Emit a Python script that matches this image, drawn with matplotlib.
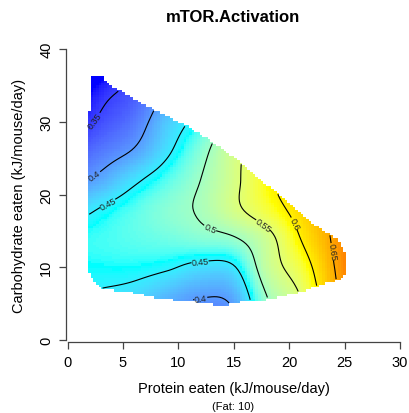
import numpy as np
import matplotlib
matplotlib.use("Agg")
import matplotlib.pyplot as plt
from matplotlib.path import Path
from matplotlib.colors import ListedColormap, Normalize

plt.rcParams['font.family'] = ['Liberation Sans', 'DejaVu Sans']

title = "mTOR.Activation"
x_label = "Protein eaten (kJ/mouse/day)"
y_label = "Carbohydrate eaten (kJ/mouse/day)"
sub_label = "(Fat: 10)"

x_ticks = [0, 5, 10, 15, 20, 25, 30]
y_ticks = [0, 10, 20, 30, 40]
levels = [0.35, 0.40, 0.45, 0.50, 0.55, 0.60, 0.65]

# response surface on a coarse protein x carbohydrate lattice
protein_nodes = np.array([0, 3, 6, 9, 12, 15, 18, 21, 24, 27, 30], float)
carb_nodes = np.array([2, 6, 10, 14, 18, 22, 26, 30, 34, 38], float)
mtor = np.array([
    [0.440, 0.432, 0.418, 0.395, 0.375, 0.388, 0.480, 0.530, 0.590, 0.640, 0.700],
    [0.450, 0.446, 0.438, 0.418, 0.402, 0.412, 0.500, 0.550, 0.635, 0.680, 0.720],
    [0.458, 0.460, 0.460, 0.454, 0.441, 0.447, 0.525, 0.575, 0.648, 0.710, 0.740],
    [0.462, 0.466, 0.472, 0.478, 0.487, 0.497, 0.535, 0.600, 0.655, 0.705, 0.740],
    [0.430, 0.452, 0.470, 0.488, 0.505, 0.540, 0.578, 0.617, 0.660, 0.700, 0.740],
    [0.385, 0.410, 0.443, 0.470, 0.500, 0.540, 0.590, 0.630, 0.670, 0.710, 0.740],
    [0.355, 0.380, 0.403, 0.444, 0.487, 0.537, 0.580, 0.630, 0.670, 0.710, 0.740],
    [0.325, 0.356, 0.380, 0.428, 0.465, 0.520, 0.560, 0.610, 0.660, 0.700, 0.740],
    [0.305, 0.340, 0.362, 0.405, 0.450, 0.500, 0.550, 0.600, 0.650, 0.700, 0.740],
    [0.285, 0.315, 0.345, 0.385, 0.430, 0.480, 0.530, 0.580, 0.630, 0.680, 0.720],
])

# outline of the observed intake region
hull_protein = [2.2, 3.2, 3.56, 5.64, 7.9, 10.6, 13.1, 15.8, 19.2, 21.9, 24.3, 25.2,
                25.2, 24.4, 23.7, 21.0, 18.3, 15.6, 13.8, 11.7, 10.2, 7.7, 5.6,
                3.2, 2.3, 1.85, 1.8, 1.95]
hull_carb = [36.3, 36.3, 35.3, 33.5, 31.6, 29.6, 27.2, 24.2, 19.8, 16.2, 13.9, 11.8,
             9.3, 8.2, 8.0, 6.6, 5.6, 5.2, 4.7, 5.2, 5.4, 5.9, 6.6,
             7.0, 8.1, 9.8, 27.0, 31.3]

label_spots = [(2.35, 30.4), (2.5, 22.5), (3.65, 18.7), (12.9, 15.5), (11.95, 10.9),
               (12.0, 6.0), (17.6, 15.7), (20.3, 15.9), (23.7, 12.1)]


def srgb_to_lab(rgb):
    c = np.asarray(rgb, float)
    lin = np.where(c <= 0.04045, c / 12.92, ((c + 0.055) / 1.055) ** 2.4)
    m = np.array([[0.4124, 0.3576, 0.1805], [0.2126, 0.7152, 0.0722], [0.0193, 0.1192, 0.9505]])
    xyz = m @ lin / np.array([0.95047, 1.0, 1.08883])
    d = 6 / 29
    f = np.where(xyz > d ** 3, np.cbrt(xyz), xyz / (3 * d * d) + 4 / 29)
    return np.array([116 * f[1] - 16, 500 * (f[0] - f[1]), 200 * (f[1] - f[2])])


def lab_to_srgb(lab):
    L, a, b = lab
    fy = (L + 16) / 116
    fx = fy + a / 500
    fz = fy - b / 200
    d = 6 / 29
    f = np.array([fx, fy, fz])
    xyz = np.where(f > d, f ** 3, 3 * d * d * (f - 4 / 29)) * np.array([0.95047, 1.0, 1.08883])
    minv = np.linalg.inv(np.array([[0.4124, 0.3576, 0.1805], [0.2126, 0.7152, 0.0722],
                                   [0.0193, 0.1192, 0.9505]]))
    lin = np.clip(minv @ xyz, 0, 1)
    c = np.where(lin <= 0.0031308, 12.92 * lin, 1.055 * lin ** (1 / 2.4) - 0.055)
    return np.clip(c, 0, 1)


# blue - cyan - yellow - red ramp blended in Lab space
anchors = [srgb_to_lab(c) for c in [(0, 0, 1), (0, 1, 1), (1, 1, 0), (1, 0, 0)]]
ramp = []
for t in np.linspace(0, 1, 256):
    s = t * 3
    i = min(int(s), 2)
    u = s - i
    ramp.append(lab_to_srgb(anchors[i] * (1 - u) + anchors[i + 1] * u))
cmap = ListedColormap(ramp)
norm = Normalize(0.33, 0.72)


def cubic_weights(nodes, q):
    """Catmull-Rom weights mapping lattice values onto query positions."""
    h = nodes[1] - nodes[0]
    n = len(nodes)
    W = np.zeros((len(q), n))
    for k, v in enumerate(q):
        s = (v - nodes[0]) / h
        i = int(np.clip(np.floor(s), 0, n - 2))
        t = s - i
        ws = [(-0.5 * t ** 3 + t ** 2 - 0.5 * t),
              (1.5 * t ** 3 - 2.5 * t ** 2 + 1),
              (-1.5 * t ** 3 + 2 * t ** 2 + 0.5 * t),
              (0.5 * t ** 3 - 0.5 * t ** 2)]
        for j, w in zip(range(i - 1, i + 3), ws):
            if j < 0:
                W[k, 0] += 2 * w
                W[k, 1] -= w
            elif j >= n:
                W[k, n - 1] += 2 * w
                W[k, n - 2] -= w
            else:
                W[k, j] += w
    return W


# evaluate surface on a fine raster
xe = np.linspace(1.6, 25.6, 101)
ye = np.linspace(4.4, 36.6, 101)
xc = 0.5 * (xe[:-1] + xe[1:])
yc = 0.5 * (ye[:-1] + ye[1:])
XX, YY = np.meshgrid(xc, yc)
Z = cubic_weights(carb_nodes, yc) @ mtor @ cubic_weights(protein_nodes, xc).T
region = Path(np.column_stack([hull_protein, hull_carb]))
inside = region.contains_points(np.column_stack([XX.ravel(), YY.ravel()])).reshape(XX.shape)
Z = np.ma.masked_where(~inside, Z)

fig = plt.figure(figsize=(4.10, 4.14), dpi=100)
ax = fig.add_axes([67.5 / 410, 1 - 341 / 414, 332.5 / 410, 291 / 414])
ax.pcolormesh(xe, ye, Z, cmap=cmap, norm=norm, shading='flat')
cs = ax.contour(XX, YY, Z, levels=levels, colors='black', linewidths=0.8)
ax.clabel(cs, manual=label_spots, inline=True, inline_spacing=2, fontsize=6.5,
          fmt='%g', colors='#222222')

ax.set_xlim(0, 30)
ax.set_ylim(0, 40)
for s in ['top', 'right']:
    ax.spines[s].set_visible(False)
ax.spines['left'].set_position(('outward', 1.2))
ax.spines['bottom'].set_position(('outward', 1.5))
ax.spines['left'].set_bounds(0, 40)
ax.spines['bottom'].set_bounds(0, 30)
for s in ['left', 'bottom']:
    ax.spines[s].set_color('#444444')
    ax.spines[s].set_linewidth(0.9)
ax.set_xticks(x_ticks)
ax.set_yticks(y_ticks)
ax.set_yticklabels([str(v) for v in y_ticks], rotation=90, va='center')
ax.tick_params(length=5, width=0.9, color='#444444', labelsize=10.5, pad=4)

fig.text(233.5 / 410, 1 - 18 / 414, title, ha='center', va='center', fontsize=12, fontweight='bold')
fig.text(233.5 / 410, 1 - 389 / 414, x_label, ha='center', va='center', fontsize=10.5)
fig.text(233.5 / 410, 1 - 407 / 414, sub_label, ha='center', va='center', fontsize=8)
fig.text(19 / 410, 1 - 195.5 / 414, y_label, ha='center', va='center', rotation=90, fontsize=10.5)

fig.savefig("out.png", dpi=100)
